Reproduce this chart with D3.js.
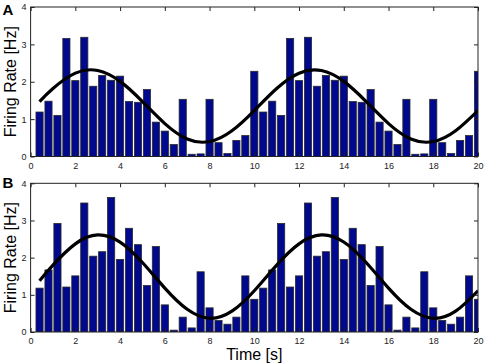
<!DOCTYPE html>
<html>
<head>
<meta charset="utf-8">
<script src="https://cdn.jsdelivr.net/npm/d3@7"></script>
<style>
    body { margin: 0; background: #fff; }
    svg { display: block; font-family: "Liberation Sans", Arial, sans-serif; }
    .tick text { font-size: 9px; fill: #222; }
    .tick line { stroke: #222; }
</style>
</head>
<body>
<svg id="chart" width="484" height="364"></svg>
<script>
// bin centres (s), one period of 25 bins of 0.4 s; the second period repeats
const binCenters = d3.range(1, 51).map(i => +(i * 0.4).toFixed(1));

const ratesA = [1.19, 1.48, 1.10, 3.16, 2.03, 3.19, 1.88, 2.17, 2.04, 2.15, 1.47, 1.45, 1.79,
    0.92, 0.68, 0.32, 1.53, 0.06, 0.07, 1.53, 0.37, 0.08, 0.43, 0.56, 2.28,
    1.19, 1.48, 1.10, 3.16, 2.03, 3.19, 1.88, 2.17, 2.04, 2.15, 1.47, 1.45, 1.79,
    0.92, 0.68, 0.32, 1.53, 0.06, 0.07, 1.53, 0.37, 0.08, 0.43, 0.56, 2.28];

const ratesB = [1.18, 1.67, 2.92, 1.21, 1.51, 3.47, 2.04, 2.16, 3.62, 1.95, 2.79, 2.35, 1.25,
    2.30, 0.73, 0.05, 0.40, 0.11, 1.62, 0.65, 0.31, 0.21, 0.40, 1.51, 0.88,
    1.18, 1.67, 2.92, 1.21, 1.51, 3.47, 2.04, 2.16, 3.62, 1.95, 2.79, 2.35, 1.25,
    2.30, 0.73, 0.05, 0.40, 0.11, 1.62, 0.65, 0.31, 0.21, 0.40, 1.51, 0.88];

const fitTimes = [0.4, 1, 2, 3, 4, 5, 6, 7, 8, 9, 10, 11, 12, 13, 14, 15, 16, 17, 18, 19, 20];
const fitA = [1.47, 1.82, 2.23, 2.30, 2.01, 1.47, 0.88, 0.47, 0.40, 0.69, 1.23,
    1.82, 2.23, 2.30, 2.01, 1.47, 0.88, 0.47, 0.40, 0.69, 1.23];
const fitB = [1.38, 1.80, 2.37, 2.61, 2.42, 1.87, 1.18, 0.61, 0.37, 0.56, 1.11,
    1.80, 2.37, 2.61, 2.42, 1.87, 1.18, 0.61, 0.37, 0.56, 1.11];

const xTicks = d3.range(0, 21, 2);
const yTicks = [0, 1, 2, 3, 4];

const panels = [
    { letter: "A", rates: ratesA, fit: fitA, top: 7, bottom: 156.5, letterY: 14.5 },
    { letter: "B", rates: ratesB, fit: fitB, top: 183.3, bottom: 332, letterY: 187.5 }
];

const svg = d3.select("#chart");
const left = 30.6, right = 478;
const binWidth = 0.4;

const x = d3.scaleLinear().domain([0, 20]).range([left, right]);

panels.forEach((panel, p) => {
    const y = d3.scaleLinear().domain([0, 4]).range([panel.bottom, panel.top]);

    const clipId = "clip" + p;
    svg.append("clipPath")
        .attr("id", clipId)
        .append("rect")
        .attr("x", left)
        .attr("y", panel.top)
        .attr("width", right - left)
        .attr("height", panel.bottom - panel.top);

    const plot = svg.append("g").attr("clip-path", `url(#${clipId})`);

    plot.selectAll("rect.bar")
        .data(binCenters.map((t, i) => ({ t, v: panel.rates[i] })))
        .enter()
        .append("rect")
        .attr("class", "bar")
        .attr("x", d => x(d.t - binWidth * 0.4))
        .attr("width", x(binWidth * 0.8) - x(0))
        .attr("y", d => y(d.v))
        .attr("height", d => y(0) - y(d.v))
        .style("fill", "#00088e")
        .style("stroke", "#2a2a2a")
        .style("stroke-width", 0.8);

    const line = d3.line()
        .x(d => x(d.t))
        .y(d => y(d.v))
        .curve(d3.curveNatural);

    plot.append("path")
        .datum(fitTimes.map((t, i) => ({ t, v: panel.fit[i] })))
        .attr("d", line)
        .style("fill", "none")
        .style("stroke", "#000")
        .style("stroke-width", 3.2);

    // axes, matlab style: ticks inside on all four sides
    svg.append("g")
        .attr("transform", `translate(0,${panel.bottom})`)
        .call(d3.axisBottom(x).tickValues(xTicks).tickFormat(d3.format("d"))
            .tickSizeInner(-4).tickSizeOuter(0).tickPadding(6))
        .call(g => g.select(".domain").remove());

    svg.append("g")
        .attr("transform", `translate(0,${panel.top})`)
        .call(d3.axisTop(x).tickValues(xTicks).tickSizeInner(-4).tickSizeOuter(0).tickFormat(""))
        .call(g => g.select(".domain").remove());

    svg.append("g")
        .attr("transform", `translate(${left},0)`)
        .call(d3.axisLeft(y).tickValues(yTicks).tickFormat(d3.format("d"))
            .tickSizeInner(-4).tickSizeOuter(0).tickPadding(4))
        .call(g => g.select(".domain").remove());

    svg.append("g")
        .attr("transform", `translate(${right},0)`)
        .call(d3.axisRight(y).tickValues(yTicks).tickSizeInner(-4).tickSizeOuter(0).tickFormat(""))
        .call(g => g.select(".domain").remove());

    svg.append("rect")
        .attr("x", left)
        .attr("y", panel.top)
        .attr("width", right - left)
        .attr("height", panel.bottom - panel.top)
        .style("fill", "none")
        .style("stroke", "#222")
        .style("stroke-width", 1);

    svg.append("text")
        .attr("x", 2.5)
        .attr("y", panel.letterY)
        .style("font-size", "15px")
        .style("font-weight", "bold")
        .text(panel.letter);

    svg.append("text")
        .attr("transform", `translate(16,${(panel.top + panel.bottom) / 2}) rotate(-90)`)
        .attr("text-anchor", "middle")
        .style("font-size", "16px")
        .text("Firing Rate [Hz]");
});

svg.append("text")
    .attr("x", (left + right) / 2)
    .attr("y", 360)
    .attr("text-anchor", "middle")
    .style("font-size", "16px")
    .text("Time [s]");
</script>
</body>
</html>
